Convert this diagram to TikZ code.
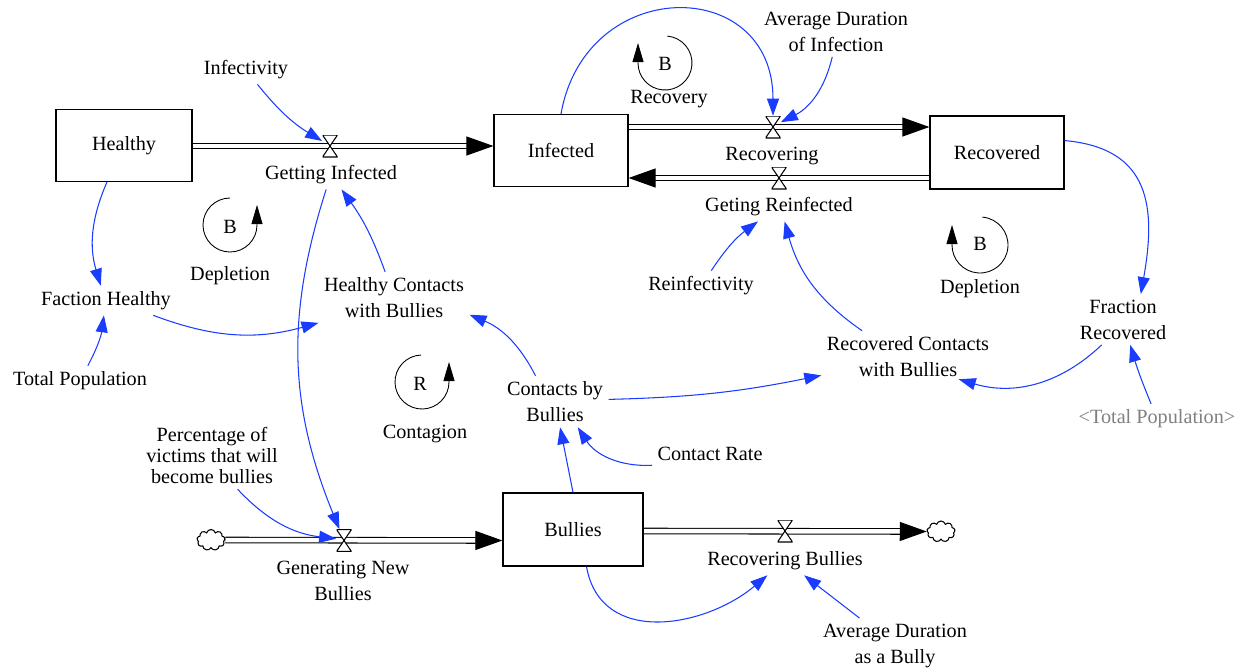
\documentclass[tikz,border=0pt]{standalone}
\usepackage{fontspec}
\setmainfont{Liberation Serif}
\usepackage{tikz}
\usetikzlibrary{arrows.meta, shapes.symbols, backgrounds}
\definecolor{linkblue}{HTML}{1A3CFF}
\definecolor{aliasgray}{HTML}{808080}

\begin{document}
\begin{tikzpicture}[
        x=0.02cm, y=0.02cm,
        font=\fontsize{11.5}{14.8}\selectfont,
        stock/.style={
            rectangle,
            draw,
            line width=0.7pt,
            fill=white,
            minimum width=2.72cm,
            minimum height=1.44cm
        },
        var/.style={align=center, inner sep=3pt, yshift=-0.05cm},
        valve/.style={
            rectangle,
            inner sep=0pt,
            minimum width=0.3cm,
            minimum height=0.44cm,
            path picture={
                \draw[line width=0.6pt, fill=white]
                    (path picture bounding box.north west) -- (path picture bounding box.north east)
                    -- (path picture bounding box.south west) -- (path picture bounding box.south east)
                    -- cycle;
            }
        },
        cloudy/.style={cloud, cloud puffs=9, draw, line width=0.6pt, fill=white,
            minimum width=0.56cm, minimum height=0.42cm, inner sep=0pt},
        pipe/.style={double, double distance=0.09cm, line width=0.6pt,
            -{Triangle[length=0.54cm, width=0.38cm]}},
        link/.style={draw=linkblue, line width=0.6pt,
            -{Triangle[length=0.34cm, width=0.24cm]}},
        loopline/.style={line width=0.5pt, -{Triangle[length=0.38cm, width=0.22cm]}}
    ]
        \useasboundingbox (0,0) rectangle (1247,-670);

        % stocks
        \node[stock] (healthy) at (124,-145.5) {Healthy};
        \node[stock, minimum width=2.68cm] (infected) at (561,-150.5) {Infected};
        \node[stock, minimum width=2.68cm, minimum height=1.46cm] (recovered) at (997,-152.5) {Recovered};
        \node[stock, minimum width=2.8cm, minimum height=1.46cm] (bullies) at (573,-529.5) {Bullies};
        \node[cloudy] (source) at (211,-540) {};
        \node[cloudy] (sink) at (941,-531.5) {};

        % valves and flow names
        \node[valve] (gi) at (330,-146) {};
        \node[valve] (rec) at (773,-127) {};
        \node[valve] (reinf) at (779,-178) {};
        \node[valve] (gnb) at (344,-540.5) {};
        \node[valve] (rb) at (785,-531) {};
        \node[var] (gilabel) at (331,-172) {Getting Infected};
        \node[var] (reclabel) at (772,-153) {Recovering};
        \node[var] (reinflabel) at (779,-204) {Geting Reinfected};
        \node[var] (gnblabel) at (343,-578) {Generating New\\Bullies};
        \node[var] (rblabel) at (785,-558) {Recovering Bullies};

        \begin{scope}[on background layer]
            \draw[pipe] (healthy.east |- gi) -- (infected.west |- gi);
            \draw[pipe] (infected.east |- rec) -- (recovered.west |- rec);
            \draw[pipe] (recovered.west |- reinf) -- (infected.east |- reinf);
            \draw[pipe] (source.east) -- (bullies.west |- gnb);
            \draw[pipe] (bullies.east |- rb) -- (sink.west);
        \end{scope}

        % auxiliaries
        \node[var] (infectivity) at (246,-67) {Infectivity};
        \node[var] (avgdurinf) at (836,-29) {Average Duration\\of Infection};
        \node[var] (fhealthy) at (106,-298) {Faction Healthy};
        \node[var] (totpop) at (80,-378) {Total Population};
        \node[var] (hcontacts) at (394,-295) {Healthy Contacts\\with Bullies};
        \node[var] (reinfectivity) at (701,-283) {Reinfectivity};
        \node[var] (fracrec) at (1123,-317) {Fraction\\Recovered};
        \node[var] (reccontacts) at (908,-354) {Recovered Contacts\\with Bullies};
        \node[var, text=aliasgray] (totpop2) at (1157,-416) {<Total Population>};
        \node[var] (contacts) at (555,-399) {Contacts by\\Bullies};
        \node[var] (contactrate) at (710,-451) {Contact Rate};
        \node[var, font=\fontsize{11.5}{11.9}\selectfont] (percent) at (212,-453) {Percentage of\\victims that will\\become bullies};
        \node[var] (avgdurbully) at (895,-643) {Average Duration\\as a Bully};

        % links
        \draw[link] (infectivity) to[bend right=10] (gi);
        \draw[link] (infected.north) to[out=80, in=90, looseness=1.7] (rec);
        \draw[link] (avgdurinf) to[bend left=25] (rec);
        \draw[link] (reinfectivity) to[bend left=10] (reinflabel);
        \draw[link] (reccontacts) to[bend left=20] (reinflabel);
        \draw[link] (recovered.10) to[out=-5, in=80, looseness=1.3] (fracrec.55);
        \draw[link] (fracrec) to[bend left=30] ([xshift=-0.72cm, yshift=0.06cm]reccontacts.south east);
        \draw[link] (totpop2) to[bend left=3] (fracrec);
        \draw[link] (contacts) to[bend right=5] (reccontacts);
        \draw[link] (contacts) to[bend right=20] (hcontacts);
        \draw[link] (hcontacts) to[bend right=8] (gilabel);
        \draw[link] (gilabel) to[bend right=20] (gnb);
        \draw[link] (percent) to[bend right=20] (gnb);
        \draw[link] (healthy.245) to[bend right=20] (fhealthy);
        \draw[link] (totpop) to[bend right=10] (fhealthy);
        \draw[link] (fhealthy) to[bend right=18] (hcontacts);
        \draw[link] (bullies.north) -- (contacts);
        \draw[link] (contactrate) to[bend left=30] (contacts);
        \draw[link] (bullies.-70) to[out=-80, in=-140, looseness=1.15] (rblabel);
        \draw[link] (avgdurbully) -- (rblabel);

        % loops
        \draw[loopline] (665,-63) ++(85:27) arc[start angle=85, end angle=-180, radius=27] -- ++(0,20);
        \node (loopb1) at (665,-64) {B};
        \node (loopb1name) at (669,-99) {Recovery};
        \draw[loopline] (230,-225) ++(90:27) arc[start angle=90, end angle=360, radius=27] -- ++(0,20);
        \node (loopb2) at (230,-227) {B};
        \node (loopb2name) at (230,-276) {Depletion};
        \draw[loopline] (980,-245) ++(85:28) arc[start angle=85, end angle=-180, radius=28] -- ++(0,20);
        \node (loopb3) at (980,-244) {B};
        \node (loopb3name) at (980,-289) {Depletion};
        \draw[loopline] (422,-382) ++(92:27) arc[start angle=92, end angle=360, radius=27] -- ++(0,20);
        \node (loopr) at (420,-384) {R};
        \node (looprname) at (425,-434) {Contagion};
    \end{tikzpicture}
\end{document}
